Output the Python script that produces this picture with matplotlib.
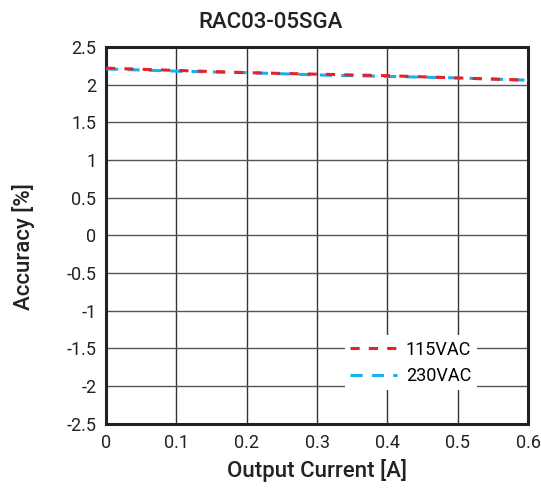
import matplotlib.pyplot as plt

# values
current = [0, 0.1, 0.2, 0.3, 0.4, 0.5, 0.6]
acc_115 = [2.22, 2.19, 2.16, 2.14, 2.12, 2.09, 2.06]
acc_230 = [2.21, 2.18, 2.16, 2.13, 2.11, 2.09, 2.06]
xticks = [0, 0.1, 0.2, 0.3, 0.4, 0.5, 0.6]
yticks = [-2.5, -2, -1.5, -1, -0.5, 0, 0.5, 1, 1.5, 2, 2.5]

plt.rcParams['font.family'] = ['Roboto', 'DejaVu Sans']

fig = plt.figure(figsize=(5.41, 4.9), dpi=100)
ax = fig.add_axes([0.196, 0.135, 0.78, 0.769])

ax.plot(current, acc_230, color='#1ab0ec', lw=2.2, dashes=(4, 3), label='230VAC', zorder=3)
ax.plot(current, acc_115, color='#e8202a', lw=2.2, dashes=(3, 3), label='115VAC', zorder=4)

ax.set_xlim(0, 0.6)
ax.set_ylim(-2.5, 2.5)
ax.set_xticks(xticks)
ax.set_xticklabels([f'{v:g}' for v in xticks])
ax.set_yticks(yticks)
ax.set_yticklabels([f'{v:g}' for v in yticks])
ax.tick_params(labelsize=13, length=0, pad=7, colors='#222222')
ax.grid(True, color='#333333', lw=1)
ax.yaxis.grid(True, color='#555555')
for s in ax.spines.values():
    s.set_linewidth(2.2)
    s.set_color('#222222')

fig.suptitle('RAC03-05SGA', x=0.5, y=0.975, fontsize=16, fontweight='medium', color='#222222')
ax.set_xlabel('Output Current [A]', fontsize=16, fontweight='medium', color='#222222', labelpad=5)
ax.set_ylabel('Accuracy [%]', fontsize=16, fontweight='medium', color='#222222')
ax.yaxis.set_label_coords(-0.168, 0.47)

h, l = ax.get_legend_handles_labels()
leg = ax.legend(h[::-1], l[::-1], loc='lower right', bbox_to_anchor=(0.9, 0.065),
                frameon=True, fontsize=13, handlelength=2.6, handletextpad=0.5,
                borderpad=0.3, labelspacing=0.45)
leg.get_frame().set_edgecolor('none')
leg.get_frame().set_facecolor('white')
leg.get_frame().set_alpha(1)

fig.savefig('out.png', dpi=100)
